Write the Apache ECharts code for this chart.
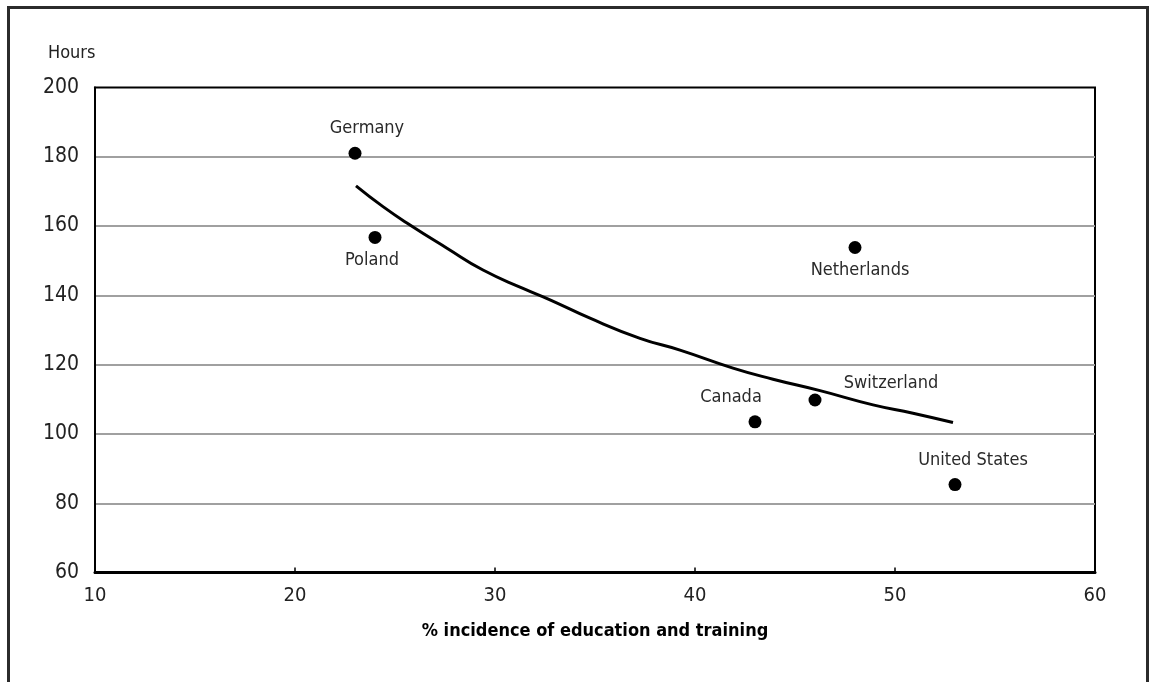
<!DOCTYPE html>
<html>
<head>
<meta charset="utf-8">
<script src="https://cdn.jsdelivr.net/npm/echarts@6/dist/echarts.min.js"></script>
<style>
html,body{margin:0;padding:0;background:#fff;}
#chart{width:1150px;height:682px;}
</style>
</head>
<body>
<div id="chart"></div>
<script>
// Data
var countries = ['Germany', 'Poland', 'Netherlands', 'Canada', 'Switzerland', 'United States'];
var incidence = [23, 24, 48, 43, 46, 53];
var hours = [181, 156.7, 153.8, 103.5, 109.8, 85.4];
// trend curve points
var trendX = [23.05, 24.4, 25.75, 27.6, 29.4, 31.4, 32.75, 34.75, 37.25, 39.25, 41.9, 43.9, 46.25, 48.9, 50.9, 52.9];
var trendY = [171.6, 165.6, 160.3, 153.6, 147.3, 142.0, 138.7, 133.4, 127.6, 124.2, 119.0, 115.8, 112.5, 108.4, 106.0, 103.3];
var xTicks = [10, 20, 30, 40, 50, 60];
var yTicks = [60, 80, 100, 120, 140, 160, 180, 200];
var yTitle = 'Hours';
var xTitle = '% incidence of education and training';

// label placement (style only)
var labelPos = ['top', 'bottom', 'bottom', 'top', 'top', 'top'];
var labelOff = [[12, -4], [-3, 2], [5, 2], [-24, -4], [76, 4], [18, -4]];

var narrow = '"Liberation Sans Narrow", "DejaVu Sans Condensed", "Liberation Sans", sans-serif';
var labelFont = '"DejaVu Sans Condensed", "Liberation Sans", Arial, sans-serif';

var pts = countries.map(function (c, i) {
  return {
    name: c,
    value: [incidence[i], hours[i]],
    label: { position: labelPos[i], offset: labelOff[i] }
  };
});
var trend = trendX.map(function (x, i) { return [x, trendY[i]]; });

var chart = echarts.init(document.getElementById('chart'), null, { renderer: 'canvas' });
chart.setOption({
  animation: false,
  backgroundColor: '#fff',
  grid: {
    left: 95, right: 55, top: 87.4, bottom: 109.4,
    show: true, borderColor: '#000', borderWidth: 2, backgroundColor: 'transparent'
  },
  graphic: [
    {
      type: 'rect', silent: true,
      shape: { x: 8.5, y: 7.5, width: 1139, height: 720 },
      style: { fill: 'none', stroke: '#2b2b2b', lineWidth: 3 }
    },
    {
      type: 'text', left: 48, top: 44,
      style: { text: yTitle, font: '18px ' + labelFont, fill: '#222' }
    }
  ],
  xAxis: {
    type: 'value', min: xTicks[0], max: xTicks[xTicks.length - 1], interval: 10,
    name: xTitle, nameLocation: 'middle', nameGap: 50,
    nameTextStyle: { fontFamily: narrow, fontWeight: 'bold', fontSize: 18, color: '#000' },
    axisLine: { show: true, onZero: false, lineStyle: { color: '#000', width: 3 } },
    axisTick: { show: true, inside: true, length: 5, lineStyle: { color: '#000', width: 1.5 } },
    axisLabel: { margin: 13, fontFamily: narrow, fontSize: 20, color: '#222' },
    splitLine: { show: false }
  },
  yAxis: {
    type: 'value', min: yTicks[0], max: yTicks[yTicks.length - 1], interval: 20,
    axisLine: { show: true, onZero: false, lineStyle: { color: '#000', width: 2 } },
    axisTick: { show: false },
    axisLabel: { margin: 16, fontFamily: narrow, fontSize: 21, color: '#222' },
    splitLine: { show: true, showMinLine: false, showMaxLine: false, lineStyle: { color: '#a0a0a0', width: 2 } }
  },
  series: [
    {
      type: 'line', data: trend, smooth: true, symbol: 'none',
      lineStyle: { color: '#000', width: 3 }, z: 3
    },
    {
      type: 'scatter', data: pts, symbol: 'circle', symbolSize: 13,
      itemStyle: { color: '#000', opacity: 1 }, z: 4,
      label: {
        show: true, formatter: '{b}', distance: 5,
        fontFamily: labelFont, fontSize: 18, color: '#2a2a2a'
      }
    }
  ]
});
</script>
</body>
</html>
